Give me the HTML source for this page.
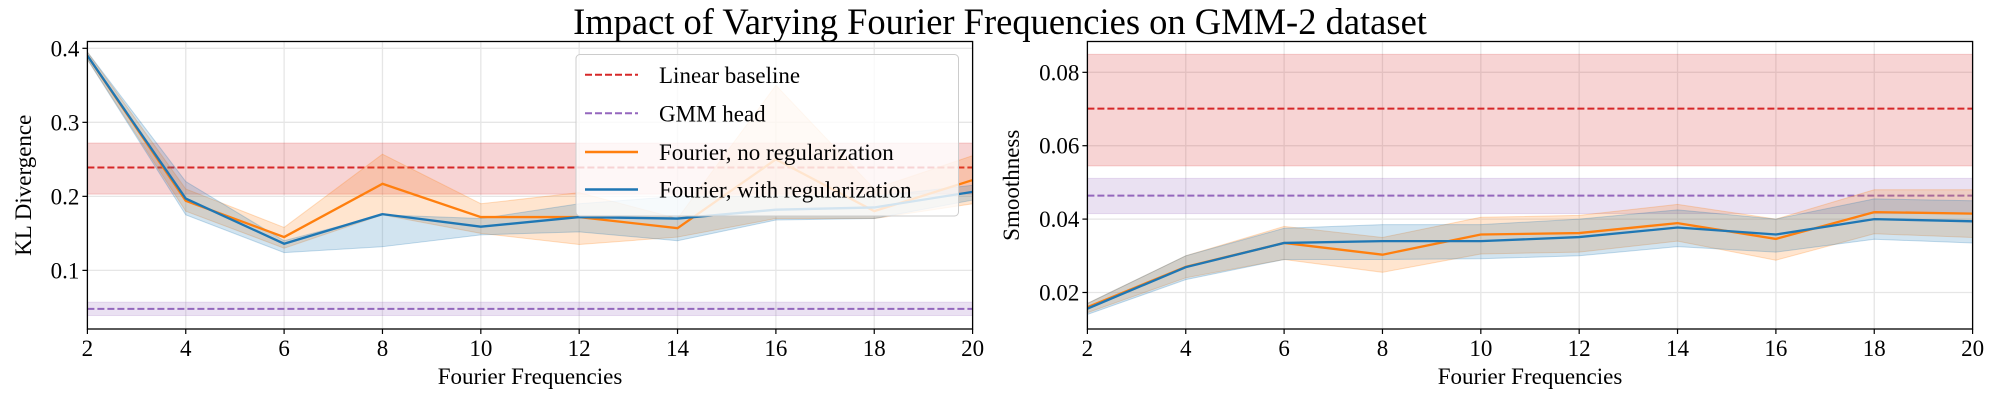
<!DOCTYPE html>
<html><head><meta charset="utf-8"><style>
html,body{margin:0;padding:0;background:#fff;}
svg{display:block;font-family:"Liberation Serif","DejaVu Serif",serif;}
</style></head><body>
<svg id="chart" width="2000" height="400" viewBox="0 0 2000 400">
<text x="1000" y="34" font-size="36.5" text-anchor="middle">Impact of Varying Fourier Frequencies on GMM-2 dataset</text>
</svg>
<script>
const freqs = [2,4,6,8,10,12,14,16,18,20];
const xTicks = [2,4,6,8,10,12,14,16,18,20];
// Left panel: KL divergence
const klOrange = [0.39,0.194,0.145,0.217,0.172,0.172,0.157,0.25,0.18,0.222];
const klOrangeHi = [0.395,0.21,0.158,0.257,0.19,0.205,0.17,0.35,0.21,0.255];
const klOrangeLo = [0.385,0.18,0.13,0.175,0.15,0.135,0.145,0.17,0.17,0.19];
const klBlue = [0.39,0.197,0.136,0.176,0.159,0.172,0.17,0.182,0.185,0.206];
const klBlueHi = [0.395,0.22,0.14,0.175,0.17,0.19,0.2,0.2,0.2,0.215];
const klBlueLo = [0.385,0.175,0.124,0.132,0.148,0.152,0.14,0.168,0.17,0.195];
const klLinear = [0.239,0.203,0.272];
const klGmm = [0.048,0.039,0.057];
const klTicks = [0.1,0.2,0.3,0.4];
// Right panel: smoothness
const smOrange = [0.016,0.027,0.0335,0.0303,0.0358,0.0362,0.0389,0.0346,0.0419,0.0415];
const smOrangeHi = [0.017,0.030,0.038,0.035,0.0405,0.041,0.044,0.040,0.048,0.048];
const smOrangeLo = [0.0145,0.024,0.029,0.0255,0.0305,0.031,0.034,0.0288,0.036,0.035];
const smBlue = [0.0156,0.0269,0.0335,0.034,0.034,0.0351,0.0377,0.0358,0.040,0.0394];
const smBlueHi = [0.017,0.030,0.0375,0.0385,0.0385,0.040,0.0425,0.040,0.0455,0.045];
const smBlueLo = [0.014,0.0235,0.029,0.029,0.0292,0.030,0.0325,0.031,0.0345,0.0335];
const smLinear = [0.0701,0.0545,0.0849];
const smGmm = [0.0464,0.0415,0.0511];
const smTicks = [0.02,0.04,0.06,0.08];

const NS="http://www.w3.org/2000/svg";
const svg=document.getElementById('chart');
function mk(tag,attrs,parent){const e=document.createElementNS(NS,tag);for(const k in attrs)e.setAttribute(k,attrs[k]);(parent||svg).appendChild(e);return e;}

function panel(cfg){
  const L=cfg.left,R=cfg.right,T=41.5,B=329;
  const xs=v=>L+(v-2)/18*(R-L);
  const ys=v=>B-(v-cfg.ymin)/(cfg.ymax-cfg.ymin)*(B-T);
  const g=mk('g',{});
  
  
  const clip=mk('clipPath',{id:cfg.name+'-clip'},g);
  mk('rect',{x:L,y:T,width:R-L,height:B-T},clip);
  xTicks.forEach(t=>{const l=mk('line',{x1:xs(t),x2:xs(t),y1:T,y2:B,stroke:'#e6e6e6','stroke-width':1.3},g);
    });
  cfg.yTicks.forEach(t=>{const l=mk('line',{x1:L,x2:R,y1:ys(t),y2:ys(t),stroke:'#e6e6e6','stroke-width':1.3},g);
    });
  const pg=mk('g',{'clip-path':'url(#'+cfg.name+'-clip)'},g);
  function hband(vals,color,name){
    const r=mk('rect',{x:L,width:R-L,y:ys(vals[2]),height:ys(vals[1])-ys(vals[2]),fill:color,'fill-opacity':0.2,stroke:color,'stroke-opacity':0.2},pg);
    
    const l=mk('line',{x1:L,x2:R,y1:ys(vals[0]),y2:ys(vals[0]),stroke:color,'stroke-width':2,'stroke-dasharray':'7,3'},pg);
    
  }
  hband(cfg.linear,'#d62728','linear-baseline');
  hband(cfg.gmm,'#9467bd','gmm-head');
  function band(hi,lo,color,name){
    let d='M'+freqs.map((f,i)=>xs(f)+','+ys(hi[i])).join('L');
    d+='L'+freqs.slice().reverse().map((f,j)=>{const i=freqs.length-1-j;return xs(f)+','+ys(lo[i]);}).join('L')+'Z';
    const p=mk('path',{d:d,fill:color,'fill-opacity':0.2,stroke:color,'stroke-opacity':0.25},pg);
    
  }
  function line(vals,color,name){
    const p=mk('polyline',{points:freqs.map((f,i)=>xs(f)+','+ys(vals[i])).join(' '),fill:'none',stroke:color,'stroke-width':2.3},pg);
    
  }
  band(cfg.oHi,cfg.oLo,'#ff7f0e','fourier-no-reg');
  band(cfg.bHi,cfg.bLo,'#1f77b4','fourier-with-reg');
  line(cfg.o,'#ff7f0e','fourier-no-reg');
  line(cfg.b,'#1f77b4','fourier-with-reg');
  const fr=mk('rect',{x:L,y:T,width:R-L,height:B-T,fill:'none',stroke:'#000','stroke-width':1.3},g);
  
  xTicks.forEach(t=>{mk('line',{x1:xs(t),x2:xs(t),y1:B,y2:B+5,stroke:'#000','stroke-width':1.2},g);
    const tx=mk('text',{x:xs(t),y:B+27,'font-size':23,'text-anchor':'middle'},g);tx.textContent=t;
    });
  cfg.yTicks.forEach(t=>{mk('line',{x1:L-5,x2:L,y1:ys(t),y2:ys(t),stroke:'#000','stroke-width':1.2},g);
    const tx=mk('text',{x:L-8,y:ys(t)+8,'font-size':23,'text-anchor':'end'},g);tx.textContent=cfg.fmt(t);
    });
  const xl=mk('text',{x:(L+R)/2,y:384,'font-size':23,'text-anchor':'middle'},g);xl.textContent='Fourier Frequencies';
  
  const yl=mk('text',{x:0,y:0,'font-size':23,'text-anchor':'middle',transform:'translate('+cfg.ylabX+','+((T+B)/2)+') rotate(-90)'},g);yl.textContent=cfg.ylabel;
  
}
panel({name:'kl-panel',left:87.4,right:972.6,ymin:0.0208,ymax:0.4092,yTicks:klTicks,fmt:t=>t.toFixed(1),
  o:klOrange,oHi:klOrangeHi,oLo:klOrangeLo,b:klBlue,bHi:klBlueHi,bLo:klBlueLo,linear:klLinear,gmm:klGmm,ylabel:'KL Divergence',ylabX:31});
panel({name:'smoothness-panel',left:1087.4,right:1972.6,ymin:0.01005,ymax:0.0884,yTicks:smTicks,fmt:t=>t.toFixed(2),
  o:smOrange,oHi:smOrangeHi,oLo:smOrangeLo,b:smBlue,bHi:smBlueHi,bLo:smBlueLo,linear:smLinear,gmm:smGmm,ylabel:'Smoothness',ylabX:1019});

const lg=mk('g',{});


mk('rect',{x:576,y:54.5,width:382.5,height:161.5,rx:4,fill:'#fff','fill-opacity':0.8,stroke:'#ccc','stroke-width':1},lg);
const entries=[['Linear baseline','#d62728',true],['GMM head','#9467bd',true],['Fourier, no regularization','#ff7f0e',false],['Fourier, with regularization','#1f77b4',false]];
const ey=[74.8,113.3,152,189.5];
entries.forEach((e,i)=>{
  const eg=mk('g',{},lg);
  
  
  const a={x1:585,x2:638,y1:ey[i],y2:ey[i],stroke:e[1],'stroke-width':e[2]?2:2.5};
  if(e[2])a['stroke-dasharray']='7,3';
  mk('line',a,eg);
  const t=mk('text',{x:659,y:ey[i]+8,'font-size':23},eg);t.textContent=e[0];
});
</script>
</body></html>
